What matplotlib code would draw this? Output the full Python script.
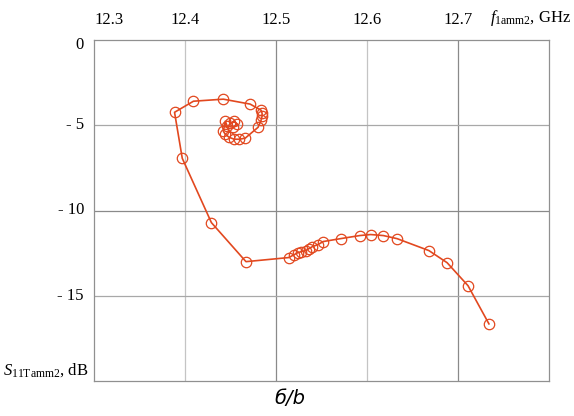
import matplotlib
matplotlib.use("Agg")
import matplotlib.pyplot as plt

# frequency (GHz) and S11 (dB), ordered along the curve
freq = [12.4497, 12.4541, 12.4574, 12.4530, 12.4464, 12.4443, 12.4421, 12.4443,
        12.4486, 12.4541, 12.4596, 12.4661, 12.4803, 12.4836, 12.4847, 12.4847,
        12.4836, 12.4716, 12.4421, 12.4093, 12.3885, 12.397, 12.429, 12.467,
        12.514, 12.520, 12.524, 12.528, 12.533, 12.536, 12.540, 12.546, 12.552,
        12.571, 12.592, 12.604, 12.618, 12.633, 12.668, 12.688, 12.711, 12.734]
s11 = [-4.88, -4.76, -4.94, -5.12, -5.06, -4.76, -5.35, -5.53,
       -5.71, -5.82, -5.82, -5.76, -5.12, -4.71, -4.47, -4.29,
       -4.12, -3.76, -3.47, -3.59, -4.24, -6.94, -10.71, -13.0,
       -12.76, -12.59, -12.47, -12.41, -12.35, -12.24, -12.12, -12.0, -11.82,
       -11.65, -11.47, -11.41, -11.47, -11.65, -12.35, -13.06, -14.41, -16.65]

x_ticks = [12.3, 12.4, 12.5, 12.6, 12.7]
x_labels = ["12.3", "12.4", "12.5", "12.6", "12.7"]
y_ticks = [0, -5, -10, -15]
y_labels = ["0", "- 5", "- 10", "- 15"]

serif = "Liberation Serif"
col = "#e2481f"

plt.rcParams["mathtext.fontset"] = "custom"
plt.rcParams["mathtext.rm"] = serif
plt.rcParams["mathtext.it"] = serif + ":italic"

fig = plt.figure(figsize=(5.74, 4.16), dpi=100)
ax = fig.add_axes([94 / 574, 1 - 381 / 416, 455 / 574, 341 / 416])
ax.set_xlim(12.3, 12.8)
ax.set_ylim(-20, 0)

# grid lines
for x in x_ticks[1:]:
    c = "#8a8a8a" if x in (12.5, 12.7) else "#c4c4c4"
    ax.axvline(x, color=c, lw=0.9, zorder=1)
for y in [-5, -10, -15]:
    c = "#8a8a8a" if y == -10 else "#a8a8a8"
    ax.axhline(y, color=c, lw=0.9, zorder=1)

ax.plot(freq, s11, color=col, lw=1.2, marker="o", ms=7.5, mfc="none",
        mec=col, mew=0.9, zorder=3)

for sp in ax.spines.values():
    sp.set_color("#909090")
    sp.set_linewidth(0.9)
ax.set_xticks([])
ax.set_yticks([])

# top tick labels
xt = ax.get_xaxis_transform()
for x, lab in zip(x_ticks, x_labels):
    ha = "left" if x == 12.3 else "center"
    ax.text(x, 1.035, lab, transform=xt, ha=ha, va="bottom",
            fontsize=12, family=serif)
ax.text(12.735, 1.035, r"$f_{\mathregular{1amm2}}$, GHz", transform=xt,
        ha="left", va="bottom", fontsize=12, family=serif)

# left tick labels ("0" sits a little below the top edge)
for y, lab in zip(y_ticks, y_labels):
    yy = y - 0.3 if y == 0 else y
    ax.text(-0.022, yy, lab, ha="right", va="center", fontsize=12, family=serif,
            transform=ax.get_yaxis_transform())
ax.text(-0.012, 0.032, r"$S_{\mathregular{11Tamm2}}$, dB",
        transform=ax.transAxes, ha="right", va="center", fontsize=12, family=serif)

fig.text(290 / 574, 1 - 398 / 416, "б/b", ha="center", va="center", fontsize=14,
         style="italic", family="DejaVu Sans")

fig.savefig("out.png", dpi=100)
